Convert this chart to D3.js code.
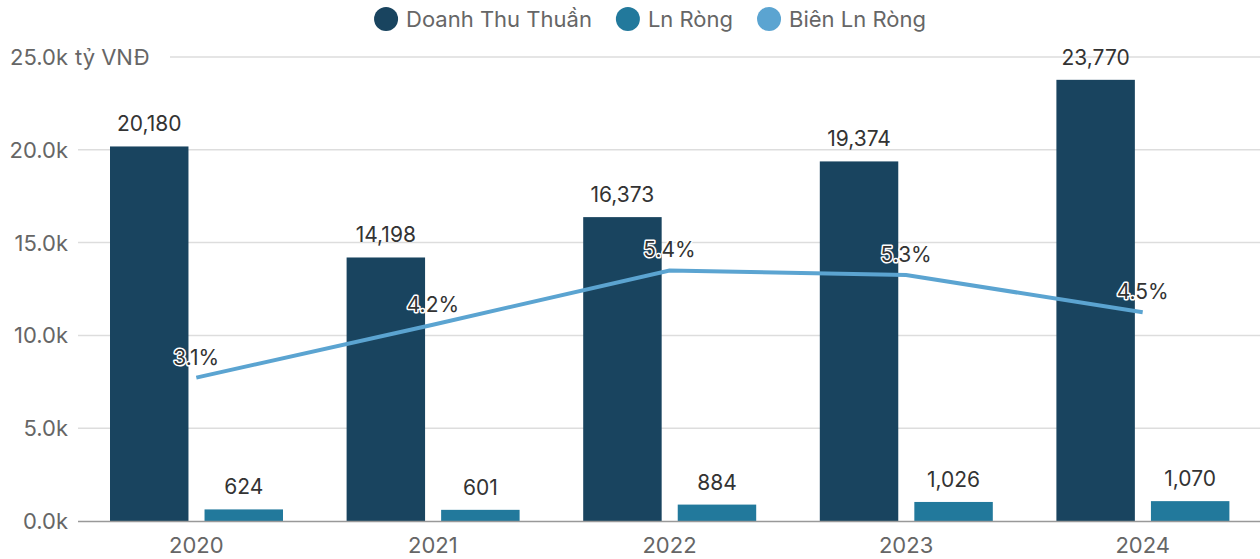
<!DOCTYPE html>
<html>
<head>
<meta charset="utf-8">
<script src="https://cdn.jsdelivr.net/npm/d3@7"></script>
<style>
body { margin: 0; background: #fff; }
svg { font-family: Inter, "Noto Sans", sans-serif; }
</style>
</head>
<body>
<svg></svg>
<script>
var width = 1260;
var height = 559;

// data
var years = ["2020", "2021", "2022", "2023", "2024"];
var doanhThu = [20180, 14198, 16373, 19374, 23770];
var lnRong = [624, 601, 884, 1026, 1070];
var bienLn = [3.09, 4.23, 5.40, 5.30, 4.50];
var yTicks = [0, 5000, 10000, 15000, 20000, 25000];
var seriesNames = ["Doanh Thu Thuần", "Ln Ròng", "Biên Ln Ròng"];
var colors = ["#19445f", "#22799c", "#5ba4d1"];

var plotLeft = 78, plotRight = 1261, plotTop = 57, plotBottom = 521;

var svg = d3.select('svg')
	.attr("width", width)
	.attr("height", height);

var x0 = d3.scaleBand().domain(years).range([plotLeft, plotRight]);
var x1 = d3.scaleBand().domain([0, 1]).range([32, 205]).paddingInner(0.17);
var y = d3.scaleLinear().domain([0, 25000]).range([plotBottom, plotTop]);
var y2 = d3.scaleLinear().domain([0, 10]).range([plotBottom, plotTop]);

// grid + y labels
var fmtK = function(v){ return (v / 1000).toFixed(1) + "k"; };

yTicks.forEach(function(t, i){
	var last = i == yTicks.length - 1;
	if (t > 0) {
		svg.append("line")
			.attr("x1", last ? 170 : plotLeft).attr("x2", width)
			.attr("y1", y(t)).attr("y2", y(t))
			.style("stroke", "#dddddd").style("stroke-width", 1.5);
	}
	svg.append("text")
		.attr("x", 68).attr("y", y(t) + 8)
		.attr("text-anchor", "end")
		.style("font-size", "22px").style("fill", "#666")
		.text(fmtK(t));
	if (last) {
		svg.append("text")
			.attr("x", 75).attr("y", y(t) + 8)
			.style("font-size", "22px").style("fill", "#666")
			.text("tỷ VNĐ");
	}
});

// bars
var groups = svg.selectAll("g.year")
	.data(years)
	.enter()
	.append("g")
	.attr("transform", function(d){ return "translate(" + x0(d) + ",0)"; });

[doanhThu, lnRong].forEach(function(series, s){
	groups.append("rect")
		.attr("x", x1(s))
		.attr("width", x1.bandwidth())
		.attr("y", function(d, i){ return y(series[i]); })
		.attr("height", function(d, i){ return plotBottom - y(series[i]); })
		.style("fill", colors[s]);
	groups.append("text")
		.attr("x", x1(s) + x1.bandwidth() / 2)
		.attr("y", function(d, i){ return y(series[i]) - 15; })
		.attr("text-anchor", "middle")
		.style("font-size", "21px").style("fill", "#333")
		.text(function(d, i){ return d3.format(",")(series[i]); });
});

// baseline
svg.append("line")
	.attr("x1", plotLeft).attr("x2", width)
	.attr("y1", plotBottom + 0.5).attr("y2", plotBottom + 0.5)
	.style("stroke", "#999").style("stroke-width", 1.5);

// x labels
svg.selectAll("text.xl")
	.data(years)
	.enter()
	.append("text")
	.attr("x", function(d){ return x0(d) + x0.bandwidth() / 2; })
	.attr("y", 553)
	.attr("text-anchor", "middle")
	.style("font-size", "22px").style("fill", "#666")
	.text(function(d){ return d; });

// margin line
var cx = function(i){ return x0(years[i]) + x0.bandwidth() / 2; };
var line = d3.line()
	.x(function(d, i){ return cx(i); })
	.y(function(d){ return y2(d); });

svg.append("path")
	.datum(bienLn)
	.attr("d", line)
	.style("fill", "none")
	.style("stroke", colors[2])
	.style("stroke-width", 4);

svg.selectAll("text.pl")
	.data(bienLn)
	.enter()
	.append("text")
	.attr("x", function(d, i){ return cx(i); })
	.attr("y", function(d){ return y2(d) - 13; })
	.attr("text-anchor", "middle")
	.style("font-size", "21px").style("fill", "#333")
	.style("stroke", "#fff").style("stroke-width", 3)
	.style("paint-order", "stroke")
	.style("stroke-linejoin", "round")
	.text(function(d){ return d.toFixed(1) + "%"; });

// legend, laid out from measured text widths and centred
var legend = svg.append("g");
var lx = 0;
seriesNames.forEach(function(name, i){
	legend.append("circle")
		.attr("cx", lx + 12).attr("cy", 19).attr("r", 12)
		.style("fill", colors[i]);
	var t = legend.append("text")
		.attr("x", lx + 32).attr("y", 27)
		.style("font-size", "22px").style("fill", "#666")
		.text(name);
	lx += 32 + t.node().getComputedTextLength() + 24;
});
var legendW = lx - 24;
legend.attr("transform", "translate(" + (650 - legendW / 2) + ",0)");
</script>
</body>
</html>
